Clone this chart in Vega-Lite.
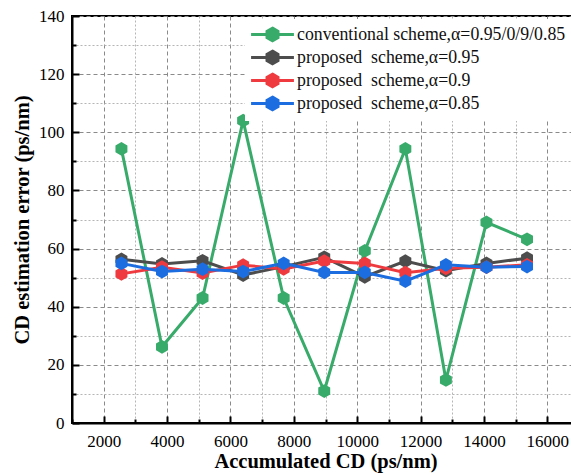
{
  "$schema": "https://vega.github.io/schema/vega-lite/v6.json",
  "width": 507,
  "height": 407,
  "autosize": {"type": "none"},
  "padding": {"left": 72, "top": 16, "right": 0, "bottom": 52},
  "background": "white",
  "config": {
    "view": {"stroke": "black", "strokeWidth": 2},
    "font": "Liberation Serif"
  },
  "data": {"values": [
    {"cd": 2560, "err": 94.3, "s": "conventional scheme,α=0.95/0/9/0.85"},
    {"cd": 3840, "err": 26.2, "s": "conventional scheme,α=0.95/0/9/0.85"},
    {"cd": 5120, "err": 43.0, "s": "conventional scheme,α=0.95/0/9/0.85"},
    {"cd": 6400, "err": 104.0, "s": "conventional scheme,α=0.95/0/9/0.85"},
    {"cd": 7680, "err": 43.0, "s": "conventional scheme,α=0.95/0/9/0.85"},
    {"cd": 8960, "err": 11.0, "s": "conventional scheme,α=0.95/0/9/0.85"},
    {"cd": 10240, "err": 59.2, "s": "conventional scheme,α=0.95/0/9/0.85"},
    {"cd": 11520, "err": 94.3, "s": "conventional scheme,α=0.95/0/9/0.85"},
    {"cd": 12800, "err": 14.8, "s": "conventional scheme,α=0.95/0/9/0.85"},
    {"cd": 14080, "err": 69.0, "s": "conventional scheme,α=0.95/0/9/0.85"},
    {"cd": 15360, "err": 63.2, "s": "conventional scheme,α=0.95/0/9/0.85"},
    {"cd": 2560, "err": 56.3, "s": "proposed  scheme,α=0.95"},
    {"cd": 3840, "err": 54.7, "s": "proposed  scheme,α=0.95"},
    {"cd": 5120, "err": 55.8, "s": "proposed  scheme,α=0.95"},
    {"cd": 6400, "err": 50.9, "s": "proposed  scheme,α=0.95"},
    {"cd": 7680, "err": 53.8, "s": "proposed  scheme,α=0.95"},
    {"cd": 8960, "err": 57.0, "s": "proposed  scheme,α=0.95"},
    {"cd": 10240, "err": 50.3, "s": "proposed  scheme,α=0.95"},
    {"cd": 11520, "err": 55.7, "s": "proposed  scheme,α=0.95"},
    {"cd": 12800, "err": 52.4, "s": "proposed  scheme,α=0.95"},
    {"cd": 14080, "err": 54.9, "s": "proposed  scheme,α=0.95"},
    {"cd": 15360, "err": 56.7, "s": "proposed  scheme,α=0.95"},
    {"cd": 2560, "err": 51.3, "s": "proposed  scheme,α=0.9"},
    {"cd": 3840, "err": 53.6, "s": "proposed  scheme,α=0.9"},
    {"cd": 5120, "err": 51.6, "s": "proposed  scheme,α=0.9"},
    {"cd": 6400, "err": 54.3, "s": "proposed  scheme,α=0.9"},
    {"cd": 7680, "err": 53.0, "s": "proposed  scheme,α=0.9"},
    {"cd": 8960, "err": 55.7, "s": "proposed  scheme,α=0.9"},
    {"cd": 10240, "err": 54.9, "s": "proposed  scheme,α=0.9"},
    {"cd": 11520, "err": 51.7, "s": "proposed  scheme,α=0.9"},
    {"cd": 12800, "err": 53.2, "s": "proposed  scheme,α=0.9"},
    {"cd": 14080, "err": 53.6, "s": "proposed  scheme,α=0.9"},
    {"cd": 15360, "err": 54.4, "s": "proposed  scheme,α=0.9"},
    {"cd": 2560, "err": 54.9, "s": "proposed  scheme,α=0.85"},
    {"cd": 3840, "err": 52.1, "s": "proposed  scheme,α=0.85"},
    {"cd": 5120, "err": 52.9, "s": "proposed  scheme,α=0.85"},
    {"cd": 6400, "err": 52.1, "s": "proposed  scheme,α=0.85"},
    {"cd": 7680, "err": 54.9, "s": "proposed  scheme,α=0.85"},
    {"cd": 8960, "err": 51.8, "s": "proposed  scheme,α=0.85"},
    {"cd": 10240, "err": 51.8, "s": "proposed  scheme,α=0.85"},
    {"cd": 11520, "err": 48.8, "s": "proposed  scheme,α=0.85"},
    {"cd": 12800, "err": 54.4, "s": "proposed  scheme,α=0.85"},
    {"cd": 14080, "err": 53.6, "s": "proposed  scheme,α=0.85"},
    {"cd": 15360, "err": 53.8, "s": "proposed  scheme,α=0.85"}
  ]},
  "mark": {
    "type": "line",
    "strokeWidth": 3,
    "clip": true,
    "point": {
      "filled": true,
      "opacity": 1,
      "size": 190,
      "shape": "M0,-1 L0.866,-0.5 L0.866,0.5 L0,1 L-0.866,0.5 L-0.866,-0.5 Z"
    }
  },
  "encoding": {
    "x": {
      "field": "cd", "type": "quantitative",
      "scale": {"domain": [1000, 17000], "nice": false, "zero": false},
      "axis": {
        "title": "Accumulated CD (ps/nm)",
        "titleFont": "Liberation Serif", "titleFontSize": 20.5, "titleFontWeight": "bold", "titleColor": "black",
        "titlePadding": 2,
        "values": [1000,2000,3000,4000,5000,6000,7000,8000,9000,10000,11000,12000,13000,14000,15000,16000,17000],
        "labelExpr": "datum.value % 2000 === 0 && datum.value < 17000 ? datum.label : ''",
        "format": "d",
        "labelFont": "Liberation Serif", "labelFontSize": 17, "labelColor": "black",
        "labelPadding": 17,
        "labelFlush": false,
        "domainColor": "black", "domainWidth": 2,
        "tickColor": "black", "tickWidth": 2,
        "tickSize": {"condition": {"test": "datum.value % 2000 === 0", "value": -7}, "value": -4},
        "grid": true,
        "gridColor": {"condition": {"test": "datum.value % 2000 === 0", "value": "#8a8a8a"}, "value": "#b5b5b5"},
        "gridDash": {"condition": {"test": "datum.value % 2000 === 0", "value": [4, 3]}, "value": [2, 2]},
        "gridWidth": 1
      }
    },
    "y": {
      "field": "err", "type": "quantitative",
      "scale": {"domain": [0, 140], "nice": false},
      "axis": {
        "title": "CD estimation error (ps/nm)",
        "titleFont": "Liberation Serif", "titleFontSize": 20.5, "titleFontWeight": "bold", "titleColor": "black",
        "titlePadding": 6,
        "values": [0,10,20,30,40,50,60,70,80,90,100,110,120,130,140],
        "labelExpr": "datum.value % 20 === 0 ? datum.label : ''",
        "labelFont": "Liberation Serif", "labelFontSize": 17, "labelColor": "black",
        "labelPadding": 15,
        "labelFlush": false,
        "domainColor": "black", "domainWidth": 2,
        "tickColor": "black", "tickWidth": 2,
        "tickSize": {"condition": {"test": "datum.value % 20 === 0", "value": -7}, "value": -4},
        "grid": true,
        "gridColor": {"condition": {"test": "datum.value % 20 === 0", "value": "#8a8a8a"}, "value": "#b5b5b5"},
        "gridDash": {"condition": {"test": "datum.value % 20 === 0", "value": [4, 3]}, "value": [2, 2]},
        "gridWidth": 1
      }
    },
    "color": {
      "field": "s", "type": "nominal",
      "scale": {
        "domain": ["conventional scheme,α=0.95/0/9/0.85", "proposed  scheme,α=0.95", "proposed  scheme,α=0.9", "proposed  scheme,α=0.85"],
        "range": ["#38ab6a", "#4d4d4d", "#ef3b3f", "#1c6de0"]
      },
      "legend": {
        "title": null,
        "orient": "none",
        "legendX": 173,
        "legendY": 3,
        "fillColor": "white",
        "padding": 5,
        "labelFont": "Liberation Serif", "labelFontSize": 17.8, "labelColor": "#111",
        "labelLimit": 400,
        "labelOffset": 14,
        "symbolOffset": 12,
        "rowPadding": -3,
        "symbolType": "M-2.49,0 L2.49,0 M0,-0.74 L0.64,-0.37 L0.64,0.37 L0,0.74 L-0.64,0.37 L-0.64,-0.37 Z",
        "symbolSize": 296,
        "symbolStrokeWidth": 3,
        "symbolOpacity": 1,
        "encode": {
          "symbols": {"update": {
            "fill": {"scale": "color", "field": "value"},
            "stroke": {"scale": "color", "field": "value"},
            "strokeWidth": {"value": 3},
            "opacity": {"value": 1}
          }},
          "labels": {"update": {"text": {"signal": "replace(datum.label, '  ', '\u00a0 ')"}}}
        }
      }
    }
  }
}
